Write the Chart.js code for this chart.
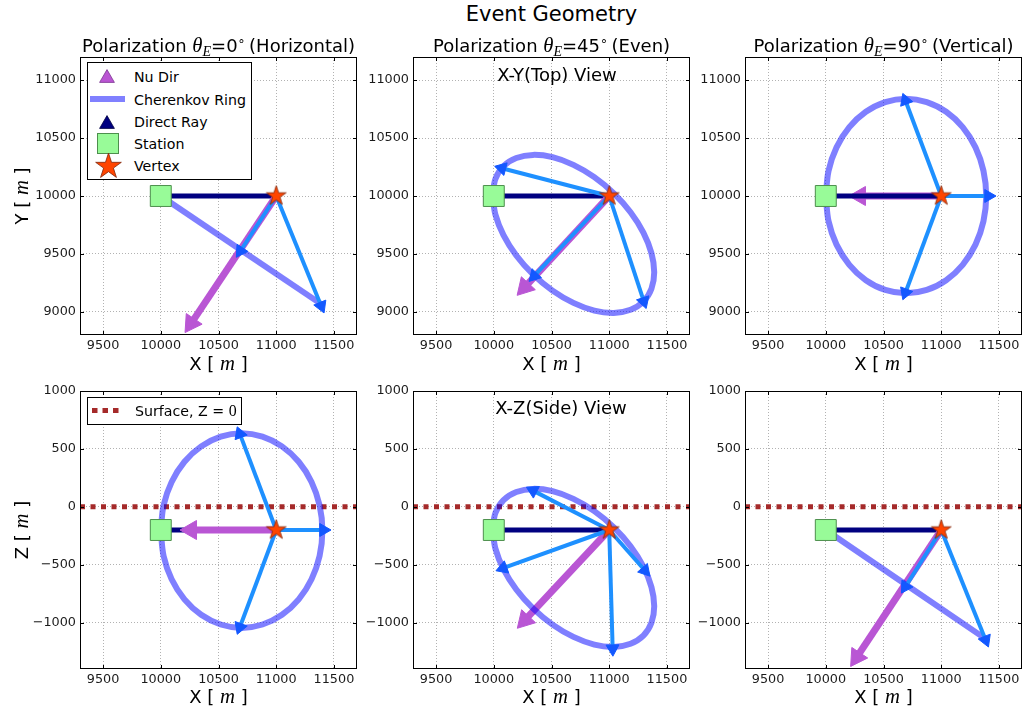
<!DOCTYPE html>
<html>
<head>
<meta charset="utf-8">
<title>Event Geometry</title>
<script src="https://cdn.jsdelivr.net/npm/chart.js@4.4.0/dist/chart.umd.min.js"></script>
<style>
  html, body { margin: 0; padding: 0; background: #fff; }
  #fig { position: relative; width: 1024px; height: 714px; overflow: hidden; font-family: 'DejaVu Sans', sans-serif; color: #000; }
  #fig canvas { position: absolute; }
  .c { position: absolute; white-space: nowrap; line-height: 1; transform: translate(-50%, -50%); }
  .l { position: absolute; white-space: nowrap; line-height: 1; transform: translateY(-50%); }
  .m { font-family: 'Liberation Serif', serif; font-style: italic; font-size: 1.15em; }
  .n { font-family: 'Liberation Serif', serif; font-size: 1.12em; }
  sub { font-size: 0.68em; vertical-align: -0.3em; line-height: 0; }
  sup { font-size: 0.7em; vertical-align: 0.55em; line-height: 0; }
  .ttl { font-size: 18px; }
  .lab { font-size: 18px; }
  .box { position: absolute; box-sizing: border-box; border: 1px solid #000; background: #fff; }
  .leg { font-size: 14.2px; }
  .mk { position: absolute; }
</style>
</head>
<body>
<div id="fig">
  <canvas id="p0"></canvas>
  <canvas id="p1"></canvas>
  <canvas id="p2"></canvas>
  <canvas id="p3"></canvas>
  <canvas id="p4"></canvas>
  <canvas id="p5"></canvas>

  <div class="c" style="left:551.5px;top:14px;font-size:21px">Event Geometry</div>
  <div class="c ttl" style="left:218.5px;top:45px">Polarization <span class="m">θ<sub>E</sub></span>=0<sup>∘</sup>&thinsp;(Horizontal)</div>
  <div class="c ttl" style="left:551.5px;top:45px">Polarization <span class="m">θ<sub>E</sub></span>=45<sup>∘</sup>&thinsp;(Even)</div>
  <div class="c ttl" style="left:883.5px;top:45px">Polarization <span class="m">θ<sub>E</sub></span>=90<sup>∘</sup>&thinsp;(Vertical)</div>

  <div class="c ttl" style="left:557px;top:75px">X-Y(Top) View</div>
  <div class="c ttl" style="left:561px;top:408px">X-Z(Side) View</div>

  <div class="c lab" style="left:21px;top:196px;transform:translate(-50%,-50%) rotate(-90deg)">Y [ <span class="m">m</span> ]</div>
  <div class="c lab" style="left:21px;top:530px;transform:translate(-50%,-50%) rotate(-90deg)">Z [ <span class="m">m</span> ]</div>
  <div class="c lab" style="left:218.5px;top:363px">X [ <span class="m">m</span> ]</div>
  <div class="c lab" style="left:551.5px;top:363px">X [ <span class="m">m</span> ]</div>
  <div class="c lab" style="left:883.5px;top:363px">X [ <span class="m">m</span> ]</div>
  <div class="c lab" style="left:218.5px;top:696px">X [ <span class="m">m</span> ]</div>
  <div class="c lab" style="left:551.5px;top:696px">X [ <span class="m">m</span> ]</div>
  <div class="c lab" style="left:883.5px;top:696px">X [ <span class="m">m</span> ]</div>

  <div class="box" style="left:87px;top:62px;width:165px;height:118px"></div>
  <svg class="mk" style="left:99px;top:69px" width="16" height="14"><polygon points="8,0.6 15.4,13.4 0.6,13.4" fill="#ba55d3" stroke="#7b3590" stroke-width="0.8"/></svg>
  <div class="mk" style="left:90px;top:96px;width:35px;height:6px;background:#8080ff"></div>
  <svg class="mk" style="left:99px;top:115px" width="16" height="14"><polygon points="8,0.6 15.4,13.4 0.6,13.4" fill="#000080" stroke="#000040" stroke-width="0.8"/></svg>
  <svg class="mk" style="left:97px;top:133px" width="22" height="21"><rect x="0.5" y="0.5" width="21" height="20" fill="#98fb98" stroke="#4d8f4d" stroke-width="1"/></svg>
  <div class="l leg" style="left:134px;top:77px">Nu Dir</div>
  <div class="l leg" style="left:134px;top:99.5px">Cherenkov Ring</div>
  <div class="l leg" style="left:134px;top:122px">Direct Ray</div>
  <div class="l leg" style="left:134px;top:143.5px">Station</div>
  <div class="l leg" style="left:134px;top:166px">Vertex</div>

  <div class="box" style="left:87px;top:397px;width:155px;height:28px"></div>
  <svg class="mk" style="left:92px;top:408px" width="28" height="6">
    <rect x="0" y="0" width="5.5" height="5" fill="#a52a2a"/>
    <rect x="10.5" y="0" width="5.5" height="5" fill="#a52a2a"/>
    <rect x="21" y="0" width="5.5" height="5" fill="#a52a2a"/>
  </svg>
  <div class="l leg" style="left:135px;top:411px">Surface, Z = <span class="n">0</span></div>
</div>

<script>
// axes
var xTicks = [9500, 10000, 10500, 11000, 11500];
var yTicks = [9000, 9500, 10000, 10500, 11000];
var zTicks = [-1000, -500, 0, 500, 1000];
var xLim = [9300, 11700];
var yLim = [8800, 11200];
var zLim = [-1400, 1000];

// positions [x, y, z] in m
var station = [10000, 10000, -200];
var vertex = [11000, 10000, -200];
var surfaceZ = 0;

// neutrino direction arrow head, one per polarization column
var nuXY = [[10263, 8900], [10267, 9212], [10296, 10000]];
var nuXZ = [[10262, -200], [10269, -979], [10268, -1299]];

// polarization rays, vertex -> ring
var rayXY = [
  [[10690, 9525], [11390, 9050]],
  [[10070, 10240], [10350, 9310], [11300, 9090]],
  [[10690, 10825], [10690, 9165], [11410, 10000]]
];
var rayXZ = [
  [[10685, 630], [10685, -1040], [11410, -200]],
  [[10340, 140], [10080, -530], [11310, -550], [11030, -1225]],
  [[10690, -690], [11385, -1150]]
];

// Cherenkov ring outline, X-Y view
var ringXYx = [
  [10000, 11400],
  [9990, 10014, 10084, 10195, 10340, 10509, 10690, 10871, 11040, 11185, 11296, 11366, 11390,
   11366, 11296, 11185, 11040, 10871, 10690, 10509, 10340, 10195, 10084, 10014, 9990],
  [10000, 10024, 10093, 10204, 10347, 10515, 10695, 10875, 11043, 11186, 11297, 11366, 11390,
   11366, 11297, 11186, 11043, 10875, 10695, 10515, 10347, 10204, 10093, 10024, 10000]
];
var ringXYy = [
  [10000, 9060],
  [10004, 10147, 10258, 10328, 10355, 10335, 10269, 10163, 10023, 9860, 9684, 9507, 9342,
   9199, 9088, 9018, 8991, 9011, 9077, 9183, 9323, 9486, 9662, 9839, 10004],
  [10000, 10218, 10420, 10594, 10727, 10811, 10840, 10811, 10727, 10594, 10420, 10218, 10000,
   9782, 9580, 9406, 9273, 9189, 9160, 9189, 9273, 9406, 9580, 9782, 10000]
];
// Cherenkov ring outline, X-Z view
var ringXZx = [
  [10000, 10024, 10094, 10205, 10350, 10519, 10700, 10881, 11050, 11195, 11306, 11376, 11400,
   11376, 11306, 11195, 11050, 10881, 10700, 10519, 10350, 10205, 10094, 10024, 10000],
  [9990, 10014, 10084, 10195, 10340, 10509, 10690, 10871, 11040, 11185, 11296, 11366, 11390,
   11366, 11296, 11185, 11040, 10871, 10690, 10509, 10340, 10195, 10084, 10014, 9990],
  [10000, 11385]
];
var ringXZz = [
  [-205, 13, 215, 389, 522, 606, 635, 606, 522, 389, 215, 13, -205,
   -423, -625, -799, -932, -1016, -1045, -1016, -932, -799, -625, -423, -205],
  [-196, -361, -538, -714, -877, -1017, -1123, -1189, -1209, -1182, -1112, -1001, -858,
   -693, -516, -340, -177, -37, 69, 135, 155, 128, 58, -53, -196],
  [-200, -1140]
];

var colLeft = [80, 413, 745], rowTop = [57, 391];
var plotW = 277, plotH = 278, padL = 78, padB = 30, padT = 10, padR = 2;

function starImage(R) {
  var s = Math.ceil(R * 2 + 4);
  var cv = document.createElement('canvas');
  cv.width = s; cv.height = s;
  var g = cv.getContext('2d');
  g.translate(s / 2, s / 2);
  g.beginPath();
  for (var k = 0; k < 10; k++) {
    var r = k % 2 ? R * 0.382 : R;
    var a = -Math.PI / 2 + k * Math.PI / 5;
    g.lineTo(r * Math.cos(a), r * Math.sin(a));
  }
  g.closePath();
  g.fillStyle = '#ff4500';
  g.fill();
  g.lineWidth = 0.8;
  g.strokeStyle = '#80260a';
  g.stroke();
  return cv;
}
var starPlot = starImage(10.4);
var starLeg = starImage(13.5);
starLeg.style.left = (108.5 - starLeg.width / 2) + 'px';
starLeg.style.top = (166 - starLeg.height / 2) + 'px';
document.getElementById('fig').appendChild(starLeg);

function pairs(xs, ys) {
  return xs.map(function(x, i) { return {x: x, y: ys[i]}; });
}

function headAngle(c) {
  var d = c.dataset.data, sx = c.chart.scales.x, sy = c.chart.scales.y;
  var a = d[0], b = d[d.length - 1];
  var dx = sx.getPixelForValue(b.x) - sx.getPixelForValue(a.x);
  var dy = sy.getPixelForValue(b.y) - sy.getPixelForValue(a.y);
  return Math.atan2(dx, -dy) * 180 / Math.PI;
}

function arrow(from, to, color, head, width, r, order) {
  return {
    data: [{x: from[0], y: from[1]}, {x: to[0], y: to[1]}],
    showLine: true, borderColor: color, borderWidth: width, borderCapStyle: 'butt',
    pointStyle: 'triangle',
    pointRadius: function(c) { return c.dataIndex === 1 ? r : 0; },
    pointRotation: headAngle,
    pointBackgroundColor: head, pointBorderColor: head, pointBorderWidth: 1,
    order: order
  };
}

// black box with inward ticks, matplotlib classic look
var frame = {
  id: 'frame',
  afterDraw: function(chart) {
    var ctx = chart.ctx, a = chart.chartArea, sx = chart.scales.x, sy = chart.scales.y;
    ctx.save();
    ctx.strokeStyle = '#000';
    ctx.lineWidth = 1;
    ctx.beginPath();
    sx.ticks.forEach(function(t) {
      var p = Math.round(sx.getPixelForValue(t.value)) + 0.5;
      ctx.moveTo(p, a.bottom); ctx.lineTo(p, a.bottom - 4);
      ctx.moveTo(p, a.top); ctx.lineTo(p, a.top + 4);
    });
    sy.ticks.forEach(function(t) {
      var p = Math.round(sy.getPixelForValue(t.value)) + 0.5;
      ctx.moveTo(a.left, p); ctx.lineTo(a.left + 4, p);
      ctx.moveTo(a.right, p); ctx.lineTo(a.right - 4, p);
    });
    ctx.stroke();
    ctx.strokeRect(Math.round(a.left) + 0.5, Math.round(a.top) + 0.5, Math.round(a.right - a.left) - 1, Math.round(a.bottom - a.top) - 1);
    ctx.restore();
  }
};

function axis(lim, ticks, isX) {
  return {
    type: 'linear', min: lim[0], max: lim[1],
    afterBuildTicks: function(s) { s.ticks = ticks.map(function(v) { return {value: v}; }); },
    afterFit: function(s) {
      if (isX) s.height = padB; else s.width = padL;
      s.paddingTop = 0; s.paddingBottom = 0; s.paddingLeft = 0; s.paddingRight = 0;
    },
    grid: {color: 'rgba(0,0,0,0.3)', lineWidth: 1, drawTicks: false},
    border: {display: false, dash: [1, 2]},
    ticks: {
      padding: isX ? 3 : 4, color: '#1a1a1a', maxRotation: 0, autoSkip: false,
      font: {family: 'DejaVu Sans', size: 12.8},
      callback: function(v) { return v < 0 ? '\u2212' + (-v) : String(v); }
    }
  };
}

function panel(idx, col, row) {
  var xy = row === 0;
  var st = [station[0], xy ? station[1] : station[2]];
  var vx = [vertex[0], xy ? vertex[1] : vertex[2]];
  var rx = xy ? ringXYx[col] : ringXZx[col];
  var ry = xy ? ringXYy[col] : ringXZz[col];
  var nu = xy ? nuXY[col] : nuXZ[col];
  var rays = xy ? rayXY[col] : rayXZ[col];

  var ds = [
    {data: [{x: vx[0], y: vx[1]}], pointStyle: starPlot, pointRadius: 10, order: 0},
    {data: [{x: st[0], y: st[1]}], pointStyle: 'rect', pointRadius: 14.8,
     pointBackgroundColor: '#98fb98', pointBorderColor: '#4d8f4d', pointBorderWidth: 1, order: 1}
  ];
  rays.forEach(function(e) { ds.push(arrow(vx, e, '#1e90ff', '#1358ff', 4, 7.5, 2)); });
  ds.push({data: pairs(rx, ry), showLine: true, borderColor: 'rgba(0,0,255,0.5)', borderWidth: 6,
           tension: 0.35, borderJoinStyle: 'round', pointRadius: 0, order: 3});
  ds.push(arrow(vx, nu, '#b956d4', '#b956d4', 7, 11, 4));
  ds.push({data: [{x: st[0], y: st[1]}, {x: vx[0], y: vx[1]}], showLine: true,
           borderColor: '#000080', borderWidth: 5, pointRadius: 0,
           order: (xy && col === 2) ? 3.5 : 5});
  if (!xy) {
    ds.push({data: [{x: xLim[0], y: surfaceZ}, {x: xLim[1], y: surfaceZ}], showLine: true,
             borderColor: '#a52a2a', borderWidth: 5, borderDash: [5, 5.5], pointRadius: 0, order: 6});
  }

  var cv = document.getElementById('p' + idx);
  cv.width = padL + plotW + padR;
  cv.height = padT + plotH + padB;
  cv.style.left = (colLeft[col] - padL) + 'px';
  cv.style.top = (rowTop[row] - padT) + 'px';

  return new Chart(cv, {
    type: 'scatter',
    data: {datasets: ds},
    options: {
      responsive: false, animation: false, events: [], devicePixelRatio: 1,
      layout: {autoPadding: false, padding: {top: padT, right: padR, left: 0, bottom: 0}},
      plugins: {legend: {display: false}, tooltip: {enabled: false}},
      scales: {
        x: axis(xLim, xTicks, true),
        y: xy ? axis(yLim, yTicks, false) : axis(zLim, zTicks, false)
      }
    },
    plugins: [frame]
  });
}

for (var i = 0; i < 6; i++) {
  panel(i, i % 3, Math.floor(i / 3));
}
</script>
</body>
</html>
